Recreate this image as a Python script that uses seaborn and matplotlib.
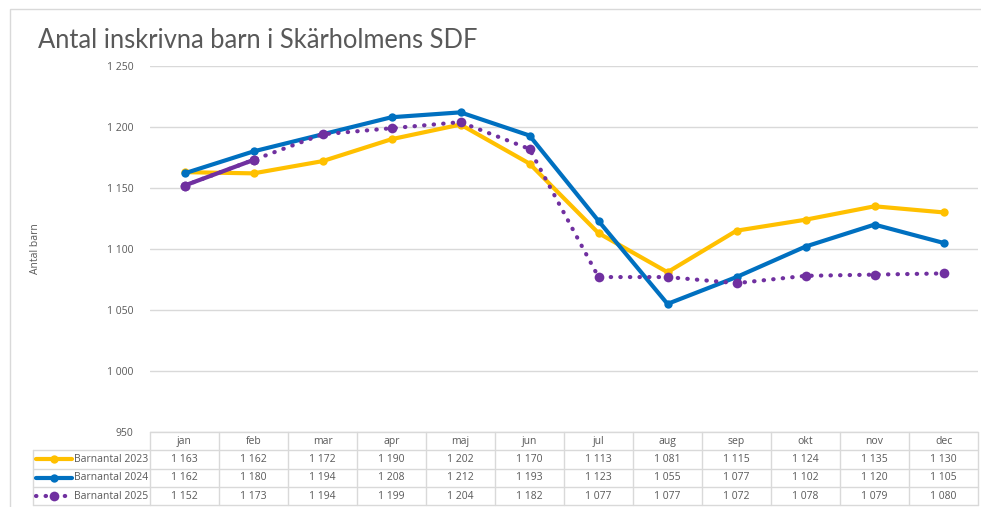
import pandas as pd
import matplotlib.pyplot as plt
import matplotlib.transforms as mtransforms
from matplotlib.lines import Line2D
from matplotlib.patches import Rectangle
import seaborn as sns

months = ['jan', 'feb', 'mar', 'apr', 'maj', 'jun', 'jul', 'aug', 'sep', 'okt', 'nov', 'dec']
barn_2023 = [1163, 1162, 1172, 1190, 1202, 1170, 1113, 1081, 1115, 1124, 1135, 1130]
barn_2024 = [1162, 1180, 1194, 1208, 1212, 1193, 1123, 1055, 1077, 1102, 1120, 1105]
barn_2025 = [1152, 1173, 1194, 1199, 1204, 1182, 1077, 1077, 1072, 1078, 1079, 1080]
series_names = ['Barnantal 2023', 'Barnantal 2024', 'Barnantal 2025']
y_ticks = [950, 1000, 1050, 1100, 1150, 1200, 1250]

colors = ['#FFC000', '#0070C0', '#7030A0']
grey = '#595959'
grid = '#d9d9d9'

sns.set_style('white')
plt.rcParams['font.family'] = ['Open Sans', 'DejaVu Sans']


def fmt(v):
    return f'{v:,}'.replace(',', ' ')


x = list(range(len(months)))
df = pd.DataFrame({'x': x, '2023': barn_2023, '2024': barn_2024, '2025': barn_2025})

fig = plt.figure(figsize=(9.81, 5.07), dpi=100)
ax = fig.add_axes([150 / 981, 1 - 432 / 507, 828 / 981, 366 / 507])

# figure frame
fig.patches.append(Rectangle((10 / 981, -0.1), 1.2, 1 - 9 / 507 + 0.1, transform=fig.transFigure,
                             fill=False, edgecolor=grid, lw=1))

# lines
sns.lineplot(data=df, x='x', y='2023', color=colors[0], lw=3, marker='o', markersize=6,
             markeredgewidth=0, ax=ax, zorder=3)
sns.lineplot(data=df, x='x', y='2024', color=colors[1], lw=3, marker='o', markersize=6,
             markeredgewidth=0, ax=ax, zorder=4)
sns.lineplot(data=df, x='x', y='2025', color=colors[2], lw=3, linestyle=(0, (0.1, 2.2)),
             dash_capstyle='round', marker='o', markersize=7, markeredgewidth=0, ax=ax, zorder=5)
# jan-feb segment of 2025 is drawn solid
sns.lineplot(data=df.iloc[:2], x='x', y='2025', color=colors[2], lw=3, marker='o', markersize=7,
             markeredgewidth=0, ax=ax, zorder=5)

ax.set_xlim(-0.5, 11.5)
ax.set_ylim(950, 1250)
ax.set_yticks(y_ticks)
ax.set_yticklabels([fmt(v) for v in y_ticks], fontsize=7.5, color=grey)
ax.set_xticks([])
ax.set_xlabel('')
ax.set_ylabel('')
ax.tick_params(axis='y', length=0, pad=12)
ax.grid(axis='y', color=grid, lw=1)
for s in ax.spines.values():
    s.set_visible(False)

# data table under the axes
tr = mtransforms.blended_transform_factory(ax.transData, ax.transAxes)
rh = 18.3 / 366
rows = [barn_2023, barn_2024, barn_2025]
for i in range(len(months) + 1):
    ax.add_line(Line2D([i - 0.5, i - 0.5], [0, -4 * rh], transform=tr, color=grid, lw=1, clip_on=False))
for j in range(5):
    ax.add_line(Line2D([-0.5, 11.5], [-j * rh, -j * rh], transform=tr, color=grid, lw=1, clip_on=False))
lab_left = -117 / 828
for j in range(1, 5):
    ax.add_line(Line2D([lab_left, 0], [-j * rh, -j * rh], transform=ax.transAxes, color=grid, lw=1,
                       clip_on=False))
ax.add_line(Line2D([lab_left, lab_left], [-rh, -4 * rh], transform=ax.transAxes, color=grid, lw=1,
                   clip_on=False))

for i, m in enumerate(months):
    ax.text(i, -0.5 * rh, m, transform=tr, ha='center', va='center', fontsize=7.5, color=grey)
    for j, r in enumerate(rows):
        ax.text(i, -(j + 1.5) * rh, fmt(r[i]), transform=tr, ha='center', va='center',
                fontsize=7.5, color=grey)

# legend keys inside the row label cells
for j, name in enumerate(series_names):
    yy = -(j + 1.5) * rh
    if j < 2:
        ax.add_line(Line2D([-114 / 828, -78 / 828], [yy, yy], transform=ax.transAxes, color=colors[j],
                           lw=3, solid_capstyle='round', clip_on=False))
        ax.add_line(Line2D([-96 / 828], [yy], transform=ax.transAxes, color=colors[j], marker='o',
                           markersize=6, markeredgewidth=0, clip_on=False))
    else:
        ax.add_line(Line2D([-114 / 828, -78 / 828], [yy, yy], transform=ax.transAxes, color=colors[j],
                           lw=3, linestyle=(0, (0.1, 2.2)), dash_capstyle='round', clip_on=False))
        ax.add_line(Line2D([-96 / 828], [yy], transform=ax.transAxes, color=colors[j], marker='o',
                           markersize=7, markeredgewidth=0, clip_on=False))
    ax.text(-76 / 828, yy, name, transform=ax.transAxes, ha='left', va='center', fontsize=7.5,
            color=grey)

fig.text(38 / 981, 1 - 40 / 507, 'Antal inskrivna barn i Skärholmens SDF', fontsize=18.4,
         color=grey, va='center', ha='left', family=['Lato', 'DejaVu Sans'])
fig.text(36 / 981, 1 - 249 / 507, 'Antal barn', rotation=90, fontsize=7.5, color=grey,
         va='center', ha='center')

fig.savefig('out.png', dpi=100)
